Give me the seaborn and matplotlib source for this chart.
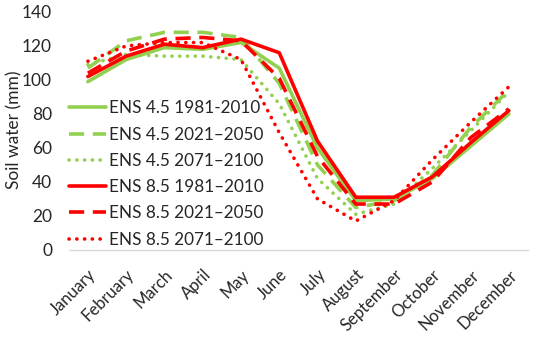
import numpy as np
import pandas as pd
import matplotlib.pyplot as plt
import seaborn as sns

# monthly soil water values ----
months = ['January', 'February', 'March', 'April', 'May', 'June', 'July',
          'August', 'September', 'October', 'November', 'December']

ens45_1981 = [99, 112, 119, 118, 122, 107, 60, 29, 30, 42, 61, 80]
ens45_2021 = [107, 123, 128, 128, 125, 98, 50, 25, 29, 44, 72, 94]
ens45_2071 = [109, 115, 114, 114, 112, 86, 42, 21, 27, 48, 70, 93]
ens85_1981 = [102, 114, 121, 119, 124, 116, 64, 31, 31, 43, 63, 82]
ens85_2021 = [104, 117, 124, 125, 123, 101, 55, 27, 27, 40, 66, 83]
ens85_2071 = [111, 120, 122, 122, 112, 69, 30, 17, 29, 53, 75, 96]

labels = ['ENS 4.5 1981-2010', 'ENS 4.5 2021\u20132050', 'ENS 4.5 2071\u20132100',
          'ENS 8.5 1981\u20132010', 'ENS 8.5 2021\u20132050', 'ENS 8.5 2071\u20132100']
series = [ens45_1981, ens45_2021, ens45_2071, ens85_1981, ens85_2021, ens85_2071]

green = '#92D050'
red = '#FF0000'
colors = [green, green, green, red, red, red]
styles = ['solid', 'dash', 'dot', 'solid', 'dash', 'dot']

sns.set_style('white')
plt.rcParams['font.family'] = ['Lato', 'DejaVu Sans']

fig = plt.figure(figsize=(5.5, 3.41), dpi=100)
ax = fig.add_axes([0.125, 0.267, 0.835, 0.698])

x = np.arange(len(months))
for lab, vals, col, sty in zip(labels, series, colors, styles):
    df = pd.DataFrame({'month': x, 'water': vals})
    line = sns.lineplot(data=df, x='month', y='water', color=col, label=lab,
                        linewidth=2.6, ax=ax).lines[-1]
    if sty == 'dash':
        line.set_dashes([4.2, 2.4])
        line.set_dash_capstyle('butt')
    elif sty == 'dot':
        line.set_dashes([0.05, 2.1])
        line.set_dash_capstyle('round')

ax.set_xlim(-0.5, 11.5)
ax.set_ylim(0, 140)
ax.set_yticks(range(0, 141, 20))
ax.set_xticks(x)
ax.set_xticklabels(months, rotation=45, ha='right', rotation_mode='anchor')
ax.set_xticks(np.arange(-0.5, 12, 1), minor=True)
ax.tick_params(axis='x', which='major', length=0, labelsize=12, pad=12)
ax.tick_params(axis='x', which='minor', length=5, color='#D9D9D9', width=1)
ax.tick_params(axis='y', length=0, labelsize=12.5, pad=12)
ax.set_xlabel('')
ax.set_ylabel('Soil water (mm)', fontsize=12.5)
ax.yaxis.set_label_coords(-0.1, 0.504)

for s in ['top', 'right', 'left']:
    ax.spines[s].set_visible(False)
ax.spines['bottom'].set_color('#D9D9D9')
ax.spines['bottom'].set_linewidth(1)

leg = ax.legend(loc='lower left', bbox_to_anchor=(0.0, 0.01), frameon=False,
                fontsize=12.3, handlelength=2.2, handletextpad=0.15,
                labelspacing=0.6, borderpad=0, borderaxespad=0)

fig.savefig('out.png', dpi=100)
